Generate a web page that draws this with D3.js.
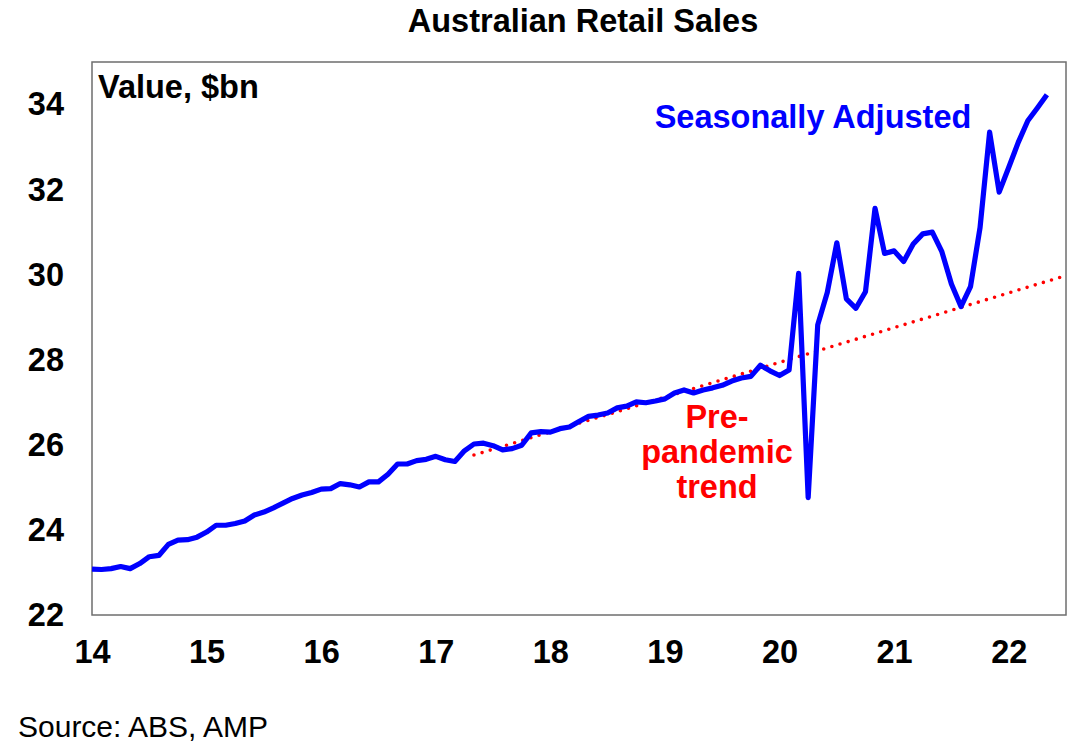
<!DOCTYPE html>
<html>
<head>
<meta charset="utf-8">
<script src="https://cdn.jsdelivr.net/npm/d3@7"></script>
<style>
  html, body { margin: 0; padding: 0; background: #fff; }
  svg { display: block; font-family: "Liberation Sans", Arial, sans-serif; }
</style>
</head>
<body>
<svg id="chart" width="1082" height="748"></svg>
<script>
// ---- Data ----
const startYear = 2014; // first monthly observation: Jan 2014
const retailSales = [
  23.08, 23.07, 23.09, 23.14, 23.09, 23.21, 23.37, 23.40, 23.66, 23.76, 23.77, 23.83,
  23.95, 24.11, 24.11, 24.15, 24.21, 24.35, 24.42, 24.52, 24.63, 24.74, 24.82, 24.88,
  24.96, 24.97, 25.09, 25.06, 25.01, 25.13, 25.13, 25.31, 25.55, 25.55, 25.63, 25.66,
  25.73, 25.65, 25.61, 25.86, 26.02, 26.04, 25.98, 25.88, 25.91, 25.99, 26.28, 26.31,
  26.30, 26.38, 26.42, 26.55, 26.67, 26.70, 26.75, 26.87, 26.91, 27.01, 26.99, 27.03,
  27.08, 27.22, 27.29, 27.22, 27.29, 27.34, 27.40, 27.50, 27.57, 27.61, 27.87, 27.74,
  27.63, 27.76, 30.03, 24.76, 28.82, 29.58, 30.75, 29.43, 29.21, 29.60, 31.56, 30.50,
  30.56, 30.31, 30.72, 30.96, 31.00, 30.54, 29.78, 29.25, 29.72, 31.11, 33.35, 31.94,
  32.52, 33.11, 33.62, 33.92, 34.23
];
const trendYears = [2017 + 4 / 12, 2022.5];
const trendValues = [25.76, 29.98];
const xTickYears = [2014, 2015, 2016, 2017, 2018, 2019, 2020, 2021, 2022];
const xTickLabels = ["14", "15", "16", "17", "18", "19", "20", "21", "22"];
const yTicks = [22, 24, 26, 28, 30, 32, 34];

const title = "Australian Retail Sales";
const unitLabel = "Value, $bn";
const seriesLabel = "Seasonally Adjusted";
const trendLabelLines = ["Pre-", "pandemic", "trend"];
const sourceText = "Source: ABS, AMP";

// ---- Layout ----
const FS = 32.5;
const svg = d3.select("#chart");
const plot = { left: 92, right: 1066, top: 62, bottom: 615 };

const x = d3.scaleLinear().domain([2014, 2022.5]).range([plot.left, plot.right]);
const y = d3.scaleLinear().domain([22, 35]).range([plot.bottom, plot.top]);

const salesPts = retailSales.map((v, i) => ({ t: startYear + i / 12, v }));
const trendPts = trendYears.map((t, i) => ({ t, v: trendValues[i] }));

// Title
svg.append("text")
  .attr("x", 583).attr("y", 32)
  .attr("text-anchor", "middle")
  .attr("font-size", FS).attr("font-weight", "bold").attr("fill", "#000")
  .text(title);

// Axes (labels only, no tick marks)
const yAxis = d3.axisLeft(y).tickValues(yTicks).tickSize(0).tickPadding(28)
  .tickFormat(d3.format("d"));
const yG = svg.append("g").attr("transform", `translate(${plot.left},0)`).call(yAxis);
yG.select(".domain").remove();
yG.selectAll("text").attr("font-size", FS).attr("font-weight", "bold")
  .attr("fill", "#000").attr("font-family", "Liberation Sans, Arial, sans-serif");

const xAxis = d3.axisBottom(x).tickValues(xTickYears).tickSize(0).tickPadding(25)
  .tickFormat((d, i) => xTickLabels[i]);
const xG = svg.append("g").attr("transform", `translate(0,${plot.bottom})`).call(xAxis);
xG.select(".domain").remove();
xG.selectAll("text").attr("font-size", FS).attr("font-weight", "bold")
  .attr("fill", "#000").attr("font-family", "Liberation Sans, Arial, sans-serif");

// Plot frame
svg.append("rect")
  .attr("x", plot.left).attr("y", plot.top)
  .attr("width", plot.right - plot.left).attr("height", plot.bottom - plot.top)
  .attr("fill", "none").attr("stroke", "#6e6e6e").attr("stroke-width", 1.5);

// Trend line (dotted)
const line = d3.line().x(d => x(d.t)).y(d => y(d.v));
svg.append("path")
  .datum(trendPts)
  .attr("d", line)
  .attr("fill", "none")
  .attr("stroke", "#ff0000")
  .attr("stroke-width", 3.6)
  .attr("stroke-linecap", "round")
  .attr("stroke-dasharray", "0 8.5");

// Sales line
svg.append("path")
  .datum(salesPts)
  .attr("d", line)
  .attr("fill", "none")
  .attr("stroke", "#0000ff")
  .attr("stroke-width", 5.2)
  .attr("stroke-linejoin", "round");

// Labels
svg.append("text")
  .attr("x", 98).attr("y", 98)
  .attr("font-size", FS).attr("font-weight", "bold").attr("fill", "#000")
  .text(unitLabel);

svg.append("text")
  .attr("x", 813).attr("y", 128)
  .attr("text-anchor", "middle")
  .attr("font-size", FS).attr("font-weight", "bold").attr("fill", "#0000ff")
  .text(seriesLabel);

const tl = svg.append("text")
  .attr("text-anchor", "middle")
  .attr("font-size", FS).attr("font-weight", "bold").attr("fill", "#ff0000");
trendLabelLines.forEach((s, i) => {
  tl.append("tspan").attr("x", 717).attr("y", 428 + i * 35).text(s);
});

svg.append("text")
  .attr("x", 18).attr("y", 737)
  .attr("font-size", 30).attr("fill", "#000")
  .text(sourceText);
</script>
</body>
</html>
